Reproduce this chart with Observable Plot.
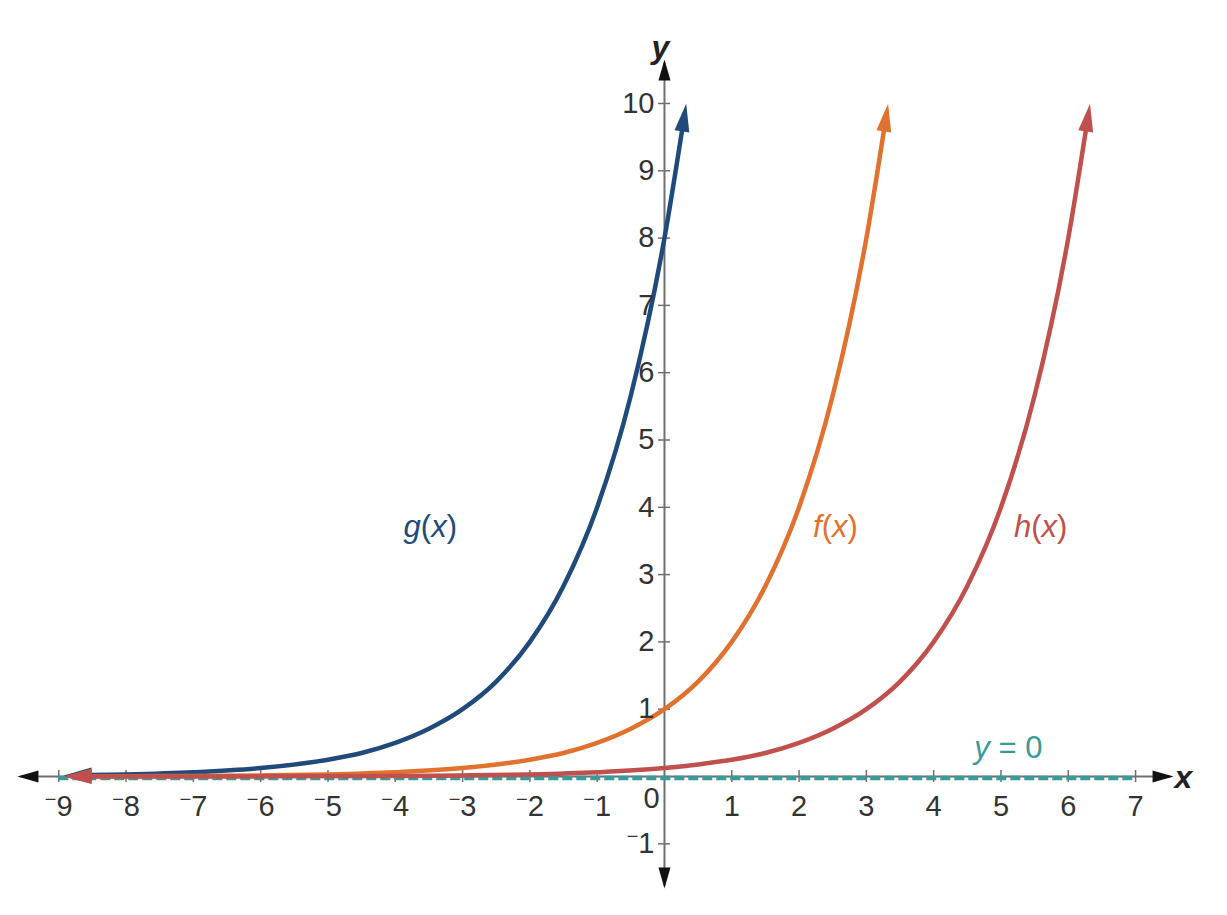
<!DOCTYPE html>
<html>
<head>
<meta charset="utf-8">
<script src="https://cdn.jsdelivr.net/npm/d3@7"></script>
<script src="https://cdn.jsdelivr.net/npm/@observablehq/plot@0.6"></script>
<style>
  html, body { margin: 0; padding: 0; background: #fff; }
  #chart svg { display: block; }
</style>
</head>
<body>
<div id="chart"></div>
<script>
// ---- data ----
const gX = [-8.78, -8, -7, -6, -5, -4.5, -4, -3.5, -3, -2.5, -2, -1.5, -1, -0.5, 0, 0.30];
const gY = [0.018, 0.031, 0.063, 0.125, 0.25, 0.35, 0.5, 0.71, 1, 1.41, 2, 2.83, 4, 5.66, 8, 9.85];

const fX = [-8.78, -8, -7, -6, -5, -4, -3, -2, -1.5, -1, -0.5, 0, 0.5, 1, 1.5, 2, 2.5, 3, 3.30];
const fY = [0.002, 0.004, 0.008, 0.016, 0.031, 0.063, 0.125, 0.25, 0.35, 0.5, 0.71, 1, 1.41, 2, 2.83, 4, 5.66, 8, 9.85];

const hX = [-8.78, -8, -6, -4, -3, -2, -1, 0, 0.5, 1, 1.5, 2, 2.5, 3, 3.5, 4, 4.5, 5, 5.5, 6, 6.30];
const hY = [0.0003, 0.0005, 0.002, 0.008, 0.016, 0.031, 0.063, 0.125, 0.18, 0.25, 0.35, 0.5, 0.71, 1, 1.41, 2, 2.83, 4, 5.66, 8, 9.85];

const asymptoteX = [-9, 7];       // y = 0 dashed line extent
const xTicks = [-9, -8, -7, -6, -5, -4, -3, -2, -1, 1, 2, 3, 4, 5, 6, 7];
const xTickLabels = ["−9", "−8", "−7", "−6", "−5", "−4", "−3", "−2", "−1", "1", "2", "3", "4", "5", "6", "7"];
const yTicks = [-1, 1, 2, 3, 4, 5, 6, 7, 8, 9, 10];
const yTickLabels = ["−1", "1", "2", "3", "4", "5", "6", "7", "8", "9", "10"];
const xAxisExtent = [-9.57, 7.52];
const yAxisExtent = [-1.62, 10.61];

const curveNames = ["g(x)", "f(x)", "h(x)", "y = 0"];
const curveLabelX = [-3.48, 2.54, 5.59, 5.11];
const curveLabelY = [3.70, 3.70, 3.70, 0.42];

// ---- styles ----
const gColor = "#1f4a7a";
const fColor = "#e0712f";
const hColor = "#c0504d";
const tealColor = "#3a9a9a";
const axisColor = "#707070";
const textColor = "#333333";
const curveColors = [gColor, fColor, hColor, tealColor];

const toPts = (xs, ys) => xs.map((x, i) => ({x, y: ys[i]}));
const gData = toPts(gX, gY);
const fData = toPts(fX, fY);
const hData = toPts(hX, hY);
const xTickData = xTicks.map((v, i) => ({v, label: xTickLabels[i]}));
const yTickData = yTicks.map((v, i) => ({v, label: yTickLabels[i]}));
const labelData = curveNames.map((t, i) => ({t, x: curveLabelX[i], y: curveLabelY[i], c: curveColors[i]}));

const curveOpts = (stroke) => ({
  x: "x", y: "y", stroke, strokeWidth: 4.5, curve: "monotone-x",
  markerStart: "arrow", markerEnd: "arrow"
});

const plot = Plot.plot({
  width: 1227,
  height: 915,
  margin: 0,
  x: {domain: [-9.866, 8.366], range: [0, 1227], axis: null},
  y: {domain: [-2.065, 11.530], range: [915, 0], axis: null},
  style: {fontFamily: "'Liberation Sans', Arial, sans-serif", background: "#fff", overflow: "visible"},
  marks: [
    // axes with arrowheads
    Plot.link([0], {x1: xAxisExtent[0], x2: xAxisExtent[1], y1: 0, y2: 0,
      stroke: axisColor, strokeWidth: 2, markerStart: "arrow", markerEnd: "arrow"}),
    Plot.link([0], {x1: 0, x2: 0, y1: yAxisExtent[0], y2: yAxisExtent[1],
      stroke: axisColor, strokeWidth: 2, markerStart: "arrow", markerEnd: "arrow"}),
    // ticks
    Plot.ruleX(xTickData, {x: "v", y1: 0, y2: 0, insetTop: -6, insetBottom: -6, stroke: axisColor, strokeWidth: 1.5}),
    Plot.ruleY(yTickData, {y: "v", x1: 0, x2: 0, insetLeft: -6, insetRight: -6, stroke: axisColor, strokeWidth: 1.5}),
    // asymptote y = 0
    Plot.ruleY([0], {x1: asymptoteX[0], x2: asymptoteX[1], stroke: tealColor, strokeWidth: 4.5,
      strokeDasharray: "10,4", dy: 1.5}),
    // curves
    Plot.line(gData, curveOpts(gColor)),
    Plot.line(fData, curveOpts(fColor)),
    Plot.line(hData, curveOpts(hColor)),
    // tick labels
    Plot.text(xTickData, {x: "v", y: 0, text: "label", dy: 30, fontSize: 29, fill: textColor, textAnchor: "middle", className: "tl"}),
    Plot.text(yTickData, {x: 0, y: "v", text: "label", dx: -10, fontSize: 29, fill: textColor, textAnchor: "end", className: "tl"}),
    Plot.text(["0"], {x: 0, y: 0, text: d => d, dx: -13, dy: 22, fontSize: 29, fill: textColor, textAnchor: "middle"}),
    // axis names
    Plot.text(["x"], {x: 0, y: 0, text: d => d, dx: 519, dy: 1, fontSize: 32, fontWeight: "bold", fontStyle: "italic", fill: "#222"}),
    Plot.text(["y"], {x: 0, y: 0, text: d => d, dx: -4, dy: -729, fontSize: 32, fontWeight: "bold", fontStyle: "italic", fill: "#222"}),
    // curve labels
    Plot.text(labelData, {x: "x", y: "y", text: "t", fill: "c", fontSize: 31, textAnchor: "middle", className: "cl"})
  ]
});

// ---- post-processing: arrowheads, raised minus, italic letters ----
plot.querySelectorAll("marker").forEach(m => {
  const c = m.getAttribute("stroke");
  const isAxis = c === axisColor;
  m.setAttribute("viewBox", "-40 -20 60 40");
  m.setAttribute("markerWidth", 60);
  m.setAttribute("markerHeight", 40);
  m.setAttribute("markerUnits", "userSpaceOnUse");
  m.setAttribute("orient", "auto-start-reverse");
  m.setAttribute("fill", isAxis ? "#111" : c);
  m.setAttribute("stroke", "none");
  const p = m.querySelector("path");
  p.setAttribute("d", isAxis ? "M3,0L-18,-6L-18,6Z" : "M10,0L-18,-7.5L-18,7.5Z");
});

const NS = "http://www.w3.org/2000/svg";
plot.querySelectorAll("g.tl text").forEach(t => {
  const s = t.textContent;
  if (s.startsWith("−")) {
    t.textContent = "";
    const a = document.createElementNS(NS, "tspan");
    a.textContent = "−";
    a.setAttribute("font-size", "20");
    a.setAttribute("dy", "-10");
    const b = document.createElementNS(NS, "tspan");
    b.textContent = s.slice(1);
    b.setAttribute("dy", "10");
    t.appendChild(a); t.appendChild(b);
  }
});
plot.querySelectorAll("g.cl text").forEach(t => {
  const s = t.textContent;
  t.textContent = "";
  for (const ch of s) {
    const sp = document.createElementNS(NS, "tspan");
    sp.textContent = ch;
    if (/[a-z]/.test(ch)) sp.setAttribute("font-style", "italic");
    t.appendChild(sp);
  }
  t.setAttribute("xml:space", "preserve");
  t.style.whiteSpace = "pre";
});

document.getElementById("chart").appendChild(plot);
</script>
</body>
</html>
